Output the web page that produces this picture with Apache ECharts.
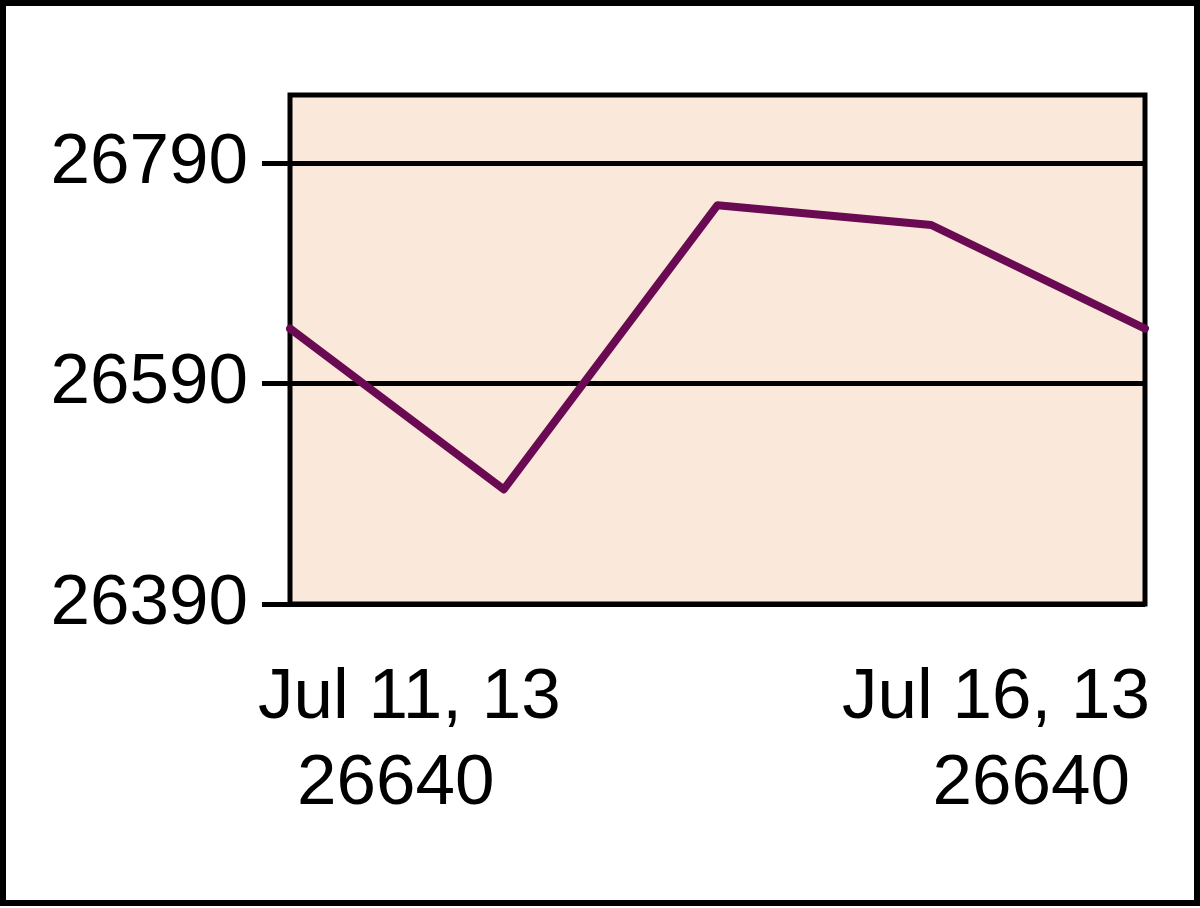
<!DOCTYPE html>
<html><head><meta charset="utf-8">
<script src="https://cdn.jsdelivr.net/npm/echarts@6/dist/echarts.min.js"></script>
<style>html,body{margin:0;padding:0;background:#fff}#c{width:1200px;height:908px}</style>
</head><body><div id="c"></div>
<script>
const categories = ['Jul 11, 13', 'Jul 12, 13', 'Jul 13, 13', 'Jul 15, 13', 'Jul 16, 13'];
const values = [26640, 26494, 26752, 26734, 26640];
const yTicks = [26390, 26590, 26790];
const yMin = 26390, yMax = 26852;

const FONT = '"Liberation Sans", Arial, sans-serif';
const FS = 71;
const chart = echarts.init(document.getElementById('c'));
const last = categories.length - 1;
chart.setOption({
  backgroundColor: '#fff',
  animation: false,
  graphic: [{
    type: 'rect', left: 0, top: 0, silent: true,
    shape: { x: 3, y: 3, width: 1194, height: 900 },
    style: { fill: null, stroke: '#000', lineWidth: 6 }
  }],
  grid: {
    left: 290, right: 55, top: 95, bottom: 304,
    show: true, backgroundColor: '#FAE9DB', borderColor: '#000', borderWidth: 5
  },
  xAxis: {
    type: 'category', data: categories, boundaryGap: false,
    axisLine: { show: false }, axisTick: { show: false }, splitLine: { show: false },
    axisLabel: {
      interval: (i) => i === 0 || i === last,
      showMinLabel: true, showMaxLabel: true,
      alignMinLabel: 'left', alignMaxLabel: 'right',
      margin: 51,
      padding: [0, -5, 0, -32],
      fontFamily: FONT, fontSize: FS, color: '#000', lineHeight: 86,
      formatter: (v) => {
        const idx = categories.indexOf(v);
        const tag = idx === 0 ? 'l' : 'r';
        return '{a|' + v + '}\n{' + tag + '|' + values[idx] + '}';
      },
      rich: {
        a: { fontFamily: FONT, fontSize: FS, lineHeight: 86, color: '#000' },
        l: { fontFamily: FONT, fontSize: FS, lineHeight: 86, color: '#000', padding: [0, 0, 0, 39] },
        r: { fontFamily: FONT, fontSize: FS, lineHeight: 86, color: '#000', padding: [0, 20, 0, 0] }
      }
    }
  },
  yAxis: {
    type: 'value', min: yMin, max: yMax, interval: 200,
    axisLine: { show: false },
    axisTick: { show: true, length: 28, lineStyle: { color: '#000', width: 5 }, customValues: yTicks },
    axisLabel: {
      customValues: yTicks, margin: 42,
      formatter: (v) => String(v),
      fontFamily: FONT, fontSize: FS, color: '#000'
    },
    splitLine: { show: true, lineStyle: { color: '#000', width: 5 } }
  },
  series: [{
    type: 'line', data: values, symbol: 'none',
    lineStyle: { color: '#6A0A52', width: 8, cap: 'round', join: 'round' }
  }]
});
</script></body></html>
